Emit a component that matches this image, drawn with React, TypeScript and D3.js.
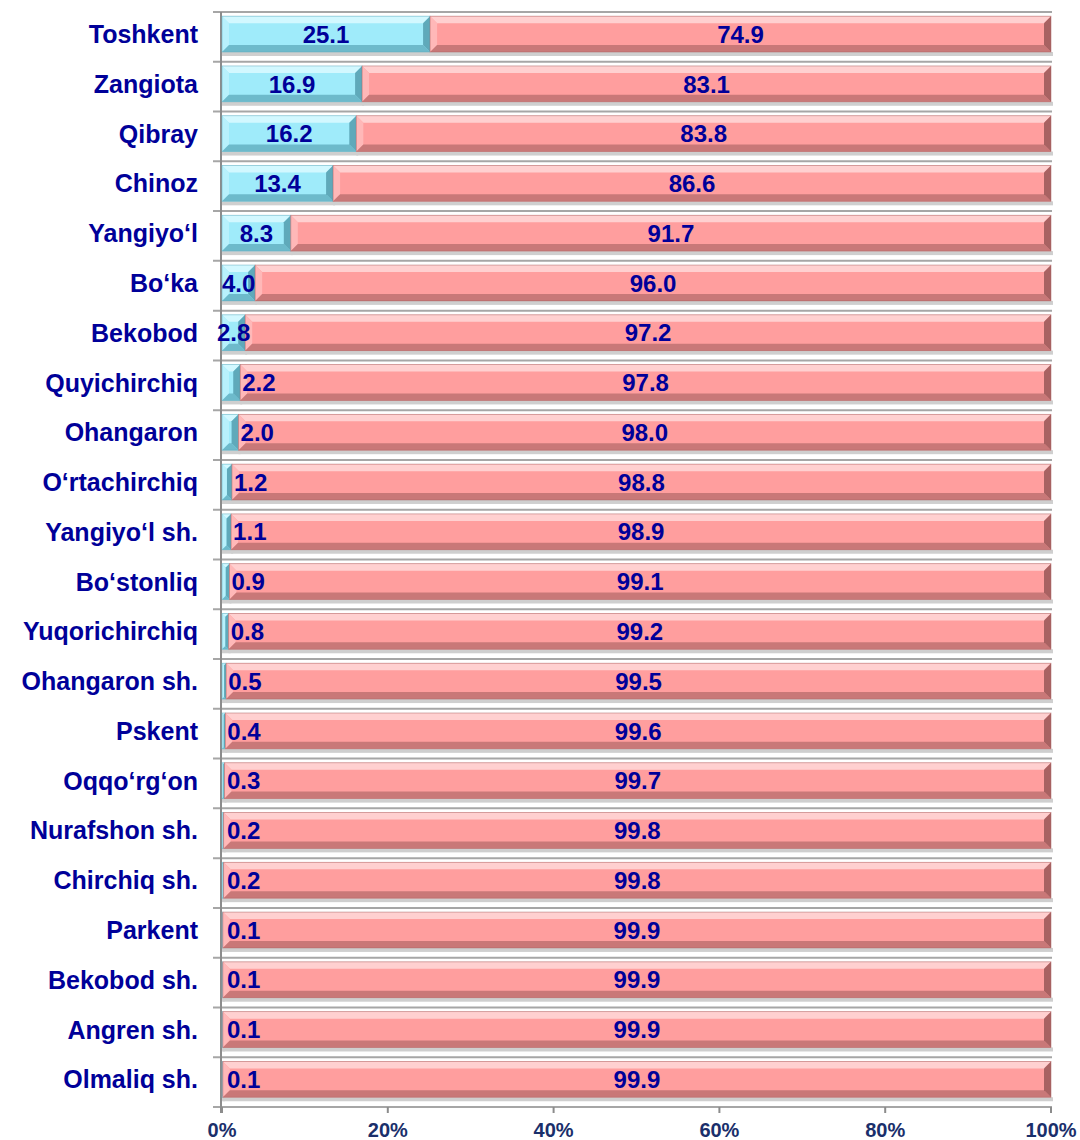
import React, { useEffect, useRef } from 'react';
import * as d3 from 'd3';

const categories = [
  'Toshkent', 'Zangiota', 'Qibray', 'Chinoz', 'Yangiyo‘l', 'Bo‘ka', 'Bekobod',
  'Quyichirchiq', 'Ohangaron', 'O‘rtachirchiq', 'Yangiyo‘l sh.', 'Bo‘stonliq',
  'Yuqorichirchiq', 'Ohangaron sh.', 'Pskent', 'Oqqo‘rg‘on', 'Nurafshon sh.',
  'Chirchiq sh.', 'Parkent', 'Bekobod sh.', 'Angren sh.', 'Olmaliq sh.',
];
const blueValues = [25.1, 16.9, 16.2, 13.4, 8.3, 4.0, 2.8, 2.2, 2.0, 1.2, 1.1, 0.9, 0.8, 0.5, 0.4, 0.3, 0.2, 0.2, 0.1, 0.1, 0.1, 0.1];
const pinkValues = [74.9, 83.1, 83.8, 86.6, 91.7, 96.0, 97.2, 97.8, 98.0, 98.8, 98.9, 99.1, 99.2, 99.5, 99.6, 99.7, 99.8, 99.8, 99.9, 99.9, 99.9, 99.9];
const xTicks = [0, 20, 40, 60, 80, 100];

const W = 1080;
const H = 1140;
const margin = { top: 12, right: 29, bottom: 33, left: 221 };

const palettes = {
  blue: { main: '#9FEBFA', top: '#D2F8FF', left: '#B8F1FC', bottom: '#6DBACB', right: '#5FA9BA' },
  pink: { main: '#FF9E9E', top: '#FFD0D0', left: '#FFB8B8', bottom: '#C97878', right: '#A86262' },
};

const App: React.FC = () => {
  const svgRef = useRef<SVGSVGElement | null>(null);

  useEffect(() => {
    const svg = d3.select(svgRef.current);
    svg.selectAll('*').remove();

    const x = d3.scaleLinear().domain([0, 100]).range([margin.left + 1, W - margin.right]);
    const y = d3.scaleBand<string>()
      .domain(categories)
      .range([margin.top, H - margin.bottom])
      .paddingInner(0.28)
      .paddingOuter(0.14)
      .align(0.3);

    const step = y.step();
    const font = 'Arial, "Liberation Sans", sans-serif';

    // row separator lines
    const boundaries = d3.range(categories.length + 1).map(i => margin.top + i * step);
    svg.append('g')
      .selectAll('line')
      .data(boundaries)
      .join('line')
      .attr('x1', margin.left - 8)
      .attr('x2', x(100) + 1)
      .attr('y1', d => d)
      .attr('y2', d => d)
      .attr('stroke', '#a6a6a6')
      .attr('stroke-width', 2);

    // vertical axis line
    svg.append('line')
      .attr('x1', margin.left).attr('x2', margin.left)
      .attr('y1', margin.top).attr('y2', H - margin.bottom + 6)
      .attr('stroke', '#8c8c8c').attr('stroke-width', 2);

    // bottom ticks
    svg.append('g')
      .selectAll('line')
      .data(xTicks)
      .join('line')
      .attr('x1', d => x(d)).attr('x2', d => x(d))
      .attr('y1', H - margin.bottom).attr('y2', H - margin.bottom + 6)
      .attr('stroke', '#8c8c8c').attr('stroke-width', 2);

    const drawBar = (g: any, x0: number, x1: number, y0: number, h: number, pal: typeof palettes.blue) => {
      const w = x1 - x0;
      if (w <= 0) return;
      const b = Math.min(7, w / 2, h / 2);
      const y1 = y0 + h;
      // shadow
      g.append('rect').attr('x', x0).attr('y', y1).attr('width', w + 2).attr('height', 4).attr('fill', '#cfcfcf');
      g.append('rect').attr('x', x0).attr('y', y0).attr('width', w).attr('height', h).attr('fill', pal.main);
      const poly = (pts: number[][], fill: string) =>
        g.append('polygon').attr('points', pts.map(p => p.join(',')).join(' ')).attr('fill', fill);
      poly([[x0, y0], [x1, y0], [x1 - b, y0 + b], [x0 + b, y0 + b]], pal.top);
      poly([[x0, y0], [x0 + b, y0 + b], [x0 + b, y1 - b], [x0, y1]], pal.left);
      poly([[x0, y1], [x0 + b, y1 - b], [x1 - b, y1 - b], [x1, y1]], pal.bottom);
      poly([[x1, y0], [x1, y1], [x1 - b, y1 - b], [x1 - b, y0 + b]], pal.right);
      g.append('rect').attr('x', x0).attr('y', y0).attr('width', w).attr('height', h)
        .attr('fill', 'none').attr('stroke', pal.right).attr('stroke-width', 0.8).attr('opacity', 0.6);
    };

    const bars = svg.append('g');
    categories.forEach((c, i) => {
      const y0 = y(c) as number;
      const h = y.bandwidth();
      const xb = x(blueValues[i]);
      drawBar(bars, x(0), xb, y0, h, palettes.blue);
      drawBar(bars, xb, x(100), y0, h, palettes.pink);
    });

    const labels = svg.append('g')
      .attr('font-family', font)
      .attr('font-weight', 'bold')
      .attr('fill', '#000099');

    categories.forEach((c, i) => {
      const cy = (y(c) as number) + y.bandwidth() / 2;
      const v = blueValues[i];
      const xb = x(v);
      const small = v < 2.5;
      labels.append('text')
        .attr('x', small ? Math.max(xb + 2, x(0) + 5) : (x(0) + xb) / 2)
        .attr('y', cy)
        .attr('dy', '0.36em')
        .attr('text-anchor', small ? 'start' : 'middle')
        .attr('font-size', 24)
        .text(v.toFixed(1));
      labels.append('text')
        .attr('x', (xb + x(100)) / 2)
        .attr('y', cy)
        .attr('dy', '0.36em')
        .attr('text-anchor', 'middle')
        .attr('font-size', 24)
        .text(pinkValues[i].toFixed(1));
      labels.append('text')
        .attr('x', 198)
        .attr('y', cy)
        .attr('dy', '0.36em')
        .attr('text-anchor', 'end')
        .attr('font-size', 25)
        .text(c);
    });

    svg.append('g')
      .attr('font-family', font)
      .attr('font-weight', 'bold')
      .attr('fill', '#1a2f6b')
      .selectAll('text')
      .data(xTicks)
      .join('text')
      .attr('x', d => x(d))
      .attr('y', H - 3)
      .attr('text-anchor', 'middle')
      .attr('font-size', 20)
      .text(d => `${d}%`);
  }, []);

  return (
    <svg ref={svgRef} width={W} height={H} style={{ position: 'absolute', left: 0, top: 0, background: '#fff' }} />
  );
};

export default App;
